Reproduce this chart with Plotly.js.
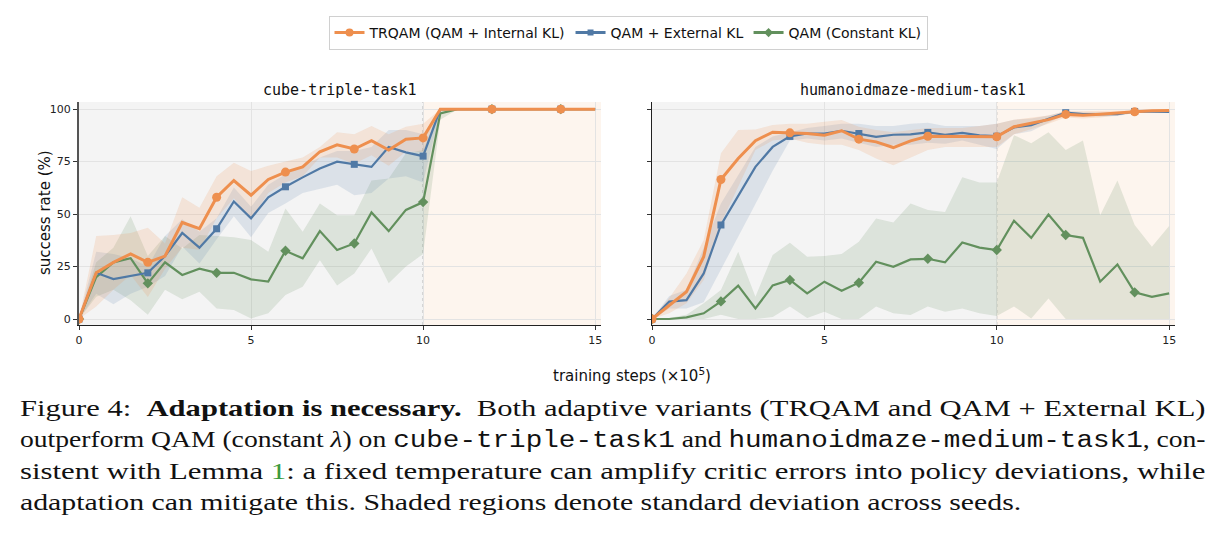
<!DOCTYPE html>
<html>
<head>
<meta charset="utf-8">
<script src="https://cdn.plot.ly/plotly-3.0.1.min.js"></script>
<style>html,body{margin:0;padding:0;background:#fff;}#chart{width:1223px;height:534px;}</style>
</head>
<body>
<div id="chart"></div>
<script>
// ---------- data ----------
const steps = [0,0.5,1,1.5,2,2.5,3,3.5,4,4.5,5,5.5,6,6.5,7,7.5,8,8.5,9,9.5,10,10.5,11,11.5,12,12.5,13,13.5,14,14.5,15];
const seriesNames = ["TRQAM (QAM + Internal KL)", "QAM + External KL", "QAM (Constant KL)"];
const panelTitles = ["cube-triple-task1", "humanoidmaze-medium-task1"];
const xTickVals = [0,5,10,15];
const yTickVals = [0,25,50,75,100];

// cube-triple-task1
const cubeTrqamMean  = [0,22,27,31,27,30,46,43,58,66,59,66.5,70,72.5,79.7,83,81,85,80.5,85.7,86.3,100,100,100,100,100,100,100,100,100,100];
const cubeTrqamUpper = [0,39.5,40,41,43.5,36,58,53,68,74.5,70.5,73,75,77,82,89,88,92,88,91.6,93,100,100,100,100,100,100,100,100,100,100];
const cubeTrqamLower = [0,6,14,21,10.5,24,34,33,48,57.5,47.5,60,65,68,77,77,74,78,73,79.8,79.6,99,100,100,100,100,100,100,100,100,100];
const cubeExtMean    = [0,22,19,20.6,22,30,41,34,43,56,48,58,63,67.5,71.7,75,73.7,72.5,82,79.4,77.6,100,100,100,100,100,100,100,100,100,100];
const cubeExtUpper   = [0,32,31,29,25,39.5,47.5,41.6,48,62.7,53.5,64,69,73,77,80,80,82,90,90,88,100,100,100,100,100,100,100,100,100,100];
const cubeExtLower   = [0,12,7,12,15.4,20.5,34.5,26.4,38,49,39,50.5,55,60,62,64,59,60,67,68,65,99,100,100,100,100,100,100,100,100,100];
const cubeConstMean  = [0,20,27,29,17,27,21,24,22,22,18.9,17.8,32.5,28.9,41.9,32.9,36,50.8,41.9,52,55.7,98,100,100,100,100,100,100,100,100,100];
const cubeConstUpper = [0,27,34,49,30,39.5,33.6,40,39.5,39,37.6,32,52.7,41.6,55,49.5,49.5,66,67,79,80.5,100,100,100,100,100,100,100,100,100,100];
const cubeConstLower = [0,10.6,14,9,2,14,9.4,13,5,4.3,0.3,2.7,11.4,15.4,28,16,21.7,33.6,17,25,31,95,100,100,100,100,100,100,100,100,100];

// humanoidmaze-medium-task1
const humTrqamMean  = [0,6.7,13,29.7,66.5,76.5,85,89,88.7,88.4,87.6,89.7,85.7,84.4,81.7,84.9,87.1,87,87,87,86.8,91.6,93.2,95,97.5,97.1,97.6,98,98.7,99.2,99.4];
const humTrqamUpper = [0,10,21.7,37.6,79,90,90.3,92.4,93,93,94,94.8,91.6,90,89,90,91,91,91,92,93,95,96,97,99,99,99,99.2,99.5,99.7,99.8];
const humTrqamLower = [0,2.7,7.5,18.6,45.6,63,80.5,85,86,84,83,83,80.5,76.5,73.3,77,80.5,82,82,82,82,88,90.5,93,96,95.5,96,97,98,98.7,99];
const humExtMean    = [0,8.3,9,21.7,44.8,59,72.5,82,87,88.4,88.4,89.7,88.4,86.8,87.8,88,88.9,87.8,88.7,87.5,87.1,91.3,92.4,95.2,98.3,97.6,97.5,97.6,98.9,98.9,98.7];
const humExtUpper   = [0,11,14,34,55,68.6,82,87,89,91,92,93,93,92,92,93,93.5,92,92,92,93,95,95.5,97,99,98.5,98.5,98.5,99.5,99.5,99.3];
const humExtLower   = [0,5,5,8,23.3,39,54.8,70.6,85,86,85,86,84,82,83,83,84,83.5,85,83,81,88,89.5,93.5,97.5,96.7,96.5,96.7,98.3,98.3,98.1];
const humConstMean  = [0,0,0.8,2.7,8.4,15.9,5,16,18.6,12.2,17.8,13.5,17.3,27.3,24.9,28.4,28.7,27,36.5,34,32.9,46.8,38.7,49.8,40,38.7,17.8,26,12.7,10.6,12.2];
const humConstUpper = [0,0.5,2,7.5,13.8,32,10.6,30.5,36.3,29.7,30,31,36.8,47.9,46,55,52,51,67.5,65,65,87.6,83.7,89,80.5,85,49.5,66,44.8,34.4,44.3];
const humConstLower = [0,0,0,0,2,0,0,1,6,0.5,3.5,0,0,6,2.7,1.9,6,3.5,5,2.7,1.4,6,0.3,9.8,0,0,0,0,0,0,0];

// ---------- style ----------
const colors = ["#ee8f4e", "#5079a5", "#62905d"];
const fills  = ["rgba(238,143,78,0.17)", "rgba(80,121,165,0.15)", "rgba(98,144,93,0.17)"];
const symbols = ["circle", "square", "diamond"];
const msizes = [9, 7, 8];
const lwidths = [3, 2.2, 2.2];

const W = 1223, H = 534;
const fx = p => p / W, fy = p => 1 - p / H;

const panels = [
  {xa: "x", ya: "y", data: [[cubeTrqamMean,cubeTrqamUpper,cubeTrqamLower],[cubeExtMean,cubeExtUpper,cubeExtLower],[cubeConstMean,cubeConstUpper,cubeConstLower]]},
  {xa: "x2", ya: "y2", data: [[humTrqamMean,humTrqamUpper,humTrqamLower],[humExtMean,humExtUpper,humExtLower],[humConstMean,humConstUpper,humConstLower]]}
];

const traces = [];
panels.forEach(p => {
  [2,1,0].forEach(i => {
    const [m, u, l] = p.data[i];
    traces.push({
      x: steps.concat(steps.slice().reverse()),
      y: u.concat(l.slice().reverse()),
      xaxis: p.xa, yaxis: p.ya, mode: "lines", fill: "toself",
      fillcolor: fills[i], line: {width: 0, color: "rgba(0,0,0,0)"},
      showlegend: false, hoverinfo: "skip"
    });
  });
});
panels.forEach(p => {
  [2,1,0].forEach(i => {
    const m = p.data[i][0];
    traces.push({x: steps, y: m, xaxis: p.xa, yaxis: p.ya, mode: "lines",
      line: {color: colors[i], width: lwidths[i]}, showlegend: false});
    const mx = steps.filter((_, k) => k % 4 === 0);
    const my = m.filter((_, k) => k % 4 === 0);
    traces.push({x: mx, y: my, xaxis: p.xa, yaxis: p.ya, mode: "markers",
      marker: {color: colors[i], size: msizes[i], symbol: symbols[i]}, showlegend: false});
  });
});
[0,1,2].forEach(i => {
  traces.push({x: [null], y: [null], mode: "lines+markers", name: seriesNames[i],
    line: {color: colors[i], width: 3}, marker: {color: colors[i], size: msizes[i] - 1, symbol: symbols[i]},
    xaxis: "x", yaxis: "y"});
});

const tickFont = {family: "DejaVu Sans", size: 11, color: "#222"};
function xAx(domain) {
  return {domain: domain, range: [0, 15.17], tickvals: xTickVals, ticks: "outside", ticklen: 4,
    tickcolor: "#333", tickfont: tickFont, showgrid: true, gridcolor: "#e3e3e3", gridwidth: 1,
    showline: true, linecolor: "#222", linewidth: 1.3, zeroline: false, fixedrange: true};
}
function yAx(showLabels, lc, lw) {
  return {domain: [fy(325), fy(102)], range: [-2.85, 103.4], tickvals: yTickVals, ticks: "outside",
    ticklen: 4, tickcolor: "#333", tickfont: tickFont, showticklabels: showLabels, showgrid: true,
    gridcolor: "#e3e3e3", gridwidth: 1, showline: true, linecolor: lc, linewidth: lw,
    zeroline: false, fixedrange: true};
}

const shapes = [];
[["x","y"],["x2","y2"]].forEach(([xa, ya]) => {
  shapes.push({type: "rect", xref: xa, yref: ya + " domain", x0: 0, x1: 10, y0: 0, y1: 1,
    fillcolor: "#f4f4f4", line: {width: 0}, layer: "below"});
  shapes.push({type: "rect", xref: xa, yref: ya + " domain", x0: 10, x1: 15.17, y0: 0, y1: 1,
    fillcolor: "#fdf5ee", line: {width: 0}, layer: "below"});
  shapes.push({type: "line", xref: xa, yref: ya + " domain", x0: 10, x1: 10, y0: 0, y1: 1,
    line: {color: "#a8a8a8", width: 1, dash: "dot"}, layer: "below"});
});

const serif = "Liberation Serif, Times New Roman, serif";
const mono = "Liberation Mono";
const capSize = 23;
const capLines = [
  "Figure 4:  <b>Adaptation is necessary.</b>  Both adaptive variants (TRQAM and QAM + External KL)",
  "outperform QAM (constant <i>λ</i>) on <span style=\"font-family:'" + mono + "'\">cube-triple-task1</span> and <span style=\"font-family:'" + mono + "'\">humanoidmaze-medium-task1</span>, con-",
  "sistent with Lemma <span style=\"color:#3c9a3c\">1</span>: a fixed temperature can amplify critic errors into policy deviations, while",
  "adaptation can mitigate this. Shaded regions denote standard deviation across seeds."
];
const capY = [408, 440, 471, 502];
const capWidth = [1186, 1186, 1186, 1002];

const annotations = [
  {text: panelTitles[0], x: fx(340), y: fy(90), xref: "paper", yref: "paper", xanchor: "center", yanchor: "middle",
   showarrow: false, font: {family: "DejaVu Sans Mono", size: 15, color: "#111"}},
  {text: panelTitles[1], x: fx(913), y: fy(90), xref: "paper", yref: "paper", xanchor: "center", yanchor: "middle",
   showarrow: false, font: {family: "DejaVu Sans Mono", size: 15, color: "#111"}},
  {text: "success rate (%)", x: fx(45), y: fy(213), xref: "paper", yref: "paper", xanchor: "center", yanchor: "middle",
   showarrow: false, textangle: -90, font: {family: "DejaVu Sans", size: 15, color: "#111"}},
  {text: "training steps (×10<sup>5</sup>)", x: fx(632), y: fy(375), xref: "paper", yref: "paper",
   xanchor: "center", yanchor: "middle", showarrow: false, font: {family: "DejaVu Sans", size: 15, color: "#111"}}
];
const capStart = annotations.length;
capLines.forEach((t, i) => {
  annotations.push({text: t, x: fx(18), y: fy(capY[i]), xref: "paper", yref: "paper", xanchor: "left",
    yanchor: "middle", showarrow: false, align: "left", font: {family: serif, size: capSize, color: "#111"}});
});

const layout = {
  width: W, height: H, margin: {l: 0, r: 0, t: 0, b: 0},
  paper_bgcolor: "#fff", plot_bgcolor: "#fff",
  showlegend: true,
  legend: {orientation: "h", x: fx(628), xanchor: "center", y: fy(16), yanchor: "top",
    font: {family: "DejaVu Sans", size: 14, color: "#111"}, bordercolor: "#d0d0d0", borderwidth: 1,
    bgcolor: "#fff", itemwidth: 30},
  xaxis: Object.assign(xAx([fx(79), fx(601)]), {anchor: "y"}),
  yaxis: Object.assign(yAx(true, "#555", 2), {anchor: "x"}),
  xaxis2: Object.assign(xAx([fx(652), fx(1175)]), {anchor: "y2"}),
  yaxis2: Object.assign(yAx(false, "#222", 1.3), {anchor: "x2"}),
  shapes: shapes,
  annotations: annotations
};

Plotly.newPlot("chart", traces, layout, {displayModeBar: false, staticPlot: true}).then(gd => {
  // stretch each caption line horizontally to the measured line width of the reference
  gd.querySelectorAll("g.annotation").forEach(g => {
    const idx = parseInt(g.getAttribute("data-index"), 10) - capStart;
    if (isNaN(idx) || idx < 0 || idx >= capLines.length) return;
    const txt = g.querySelector("text.annotation-text");
    if (!txt) return;
    const bb = txt.getBBox();
    if (!bb.width) return;
    const sx = capWidth[idx] / bb.width;
    const x0 = bb.x;
    const prev = txt.getAttribute("transform");
    txt.setAttribute("transform", (prev ? prev + " " : "") +
      "translate(" + x0 + ",0) scale(" + sx + ",1) translate(" + (-x0) + ",0)");
  });
});
</script>
</body>
</html>
